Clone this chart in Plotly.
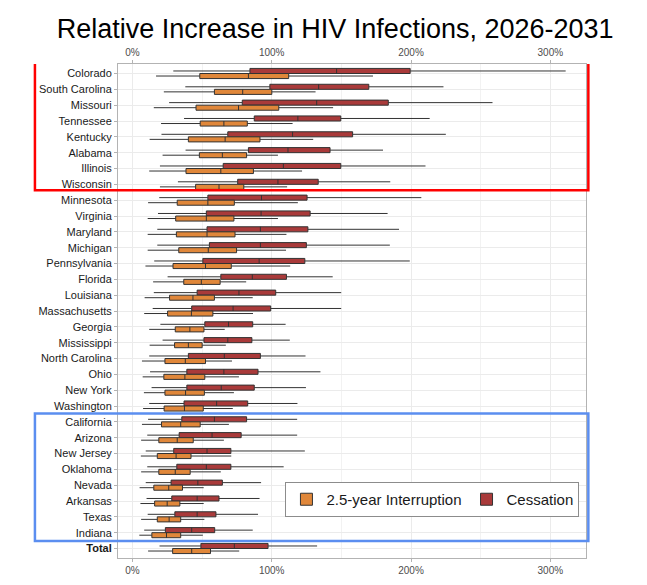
import plotly.graph_objects as go

# states top to bottom, values are % relative increase
states = ["Colorado", "South Carolina", "Missouri", "Tennessee", "Kentucky", "Alabama",
          "Illinois", "Wisconsin", "Minnesota", "Virginia", "Maryland", "Michigan",
          "Pennsylvania", "Florida", "Louisiana", "Massachusetts", "Georgia", "Mississippi",
          "North Carolina", "Ohio", "New York", "Washington", "California", "Arizona",
          "New Jersey", "Oklahoma", "Nevada", "Arkansas", "Texas", "Indiana", "Total"]

# Cessation
cess_lo = [29.4, 38, 26.4, 37.1, 20.9, 38.2, 19.8, 32.7, 19.3, 18.4, 17.9, 17.9, 15.7, 25.3, 15.4,
           14.6, 20.1, 21.7, 12.1, 12.7, 13.8, 12.1, 11.3, 10.7, 9.6, 10.7, 9.6, 10.2, 11, 8.5, 19.5]
cess_q1 = [84.4, 98.7, 78.9, 87.5, 68.5, 83.3, 65.2, 75.6, 54.2, 53.1, 53.6, 55.3, 50.6, 63.5, 46.5,
           42.6, 52, 51.4, 40.2, 39.1, 39.1, 37.1, 35.5, 33.6, 29.7, 31.9, 27.8, 28.3, 30.5, 23.7, 49.2]
cess_med = [146.6, 133.7, 132.3, 118.8, 115, 111.7, 108.4, 104.5, 92.7, 92.4, 91.9, 91.9, 91, 86.1, 76.5,
            72.3, 69, 68.5, 66, 65.7, 63.8, 60.5, 58.9, 57.2, 53.6, 53.1, 47, 46.5, 46.5, 42.6, 73.2]
cess_q3 = [199.4, 169.7, 183.7, 149.6, 158.1, 141.9, 149.6, 133.4, 125.4, 127.6, 126, 124.9, 123.8, 110.6, 102.9,
           99.3, 86.4, 85.8, 91.9, 90.2, 87.5, 82.8, 82, 78.1, 70.7, 70.7, 64.6, 62.2, 60, 59.1, 97.4]
cess_hi = [311, 223.3, 258.5, 213.4, 225, 179.9, 210.4, 185.1, 207.4, 183.2, 191.4, 184.8, 199.1, 143.8, 149.9,
           149.9, 110, 113, 124.3, 135, 124.6, 118.5, 118.3, 118.3, 123.8, 108.6, 92.4, 91.3, 90.2, 86.4, 132.6]

# 2.5-year Interruption
intr_lo = [17, 22.6, 15.4, 20.6, 12.4, 21.7, 12.1, 19.8, 11.3, 11, 11, 11, 9.4, 14.9, 8.8,
           8.5, 12.1, 12.4, 6.9, 7.4, 8.3, 7.7, 6.9, 6.3, 6.1, 6.3, 5.2, 5.8, 6.3, 5, 11.3]
intr_q1 = [48.4, 58.9, 45.7, 48.7, 40.2, 48.1, 38.5, 45.4, 32.2, 31.1, 31.6, 33.3, 29.2, 36.9, 26.7,
           25.3, 30.8, 30.3, 23.4, 22.6, 23.4, 22.8, 20.9, 19, 17.9, 19, 15.4, 16, 17.9, 14, 28.9]
intr_med = [83.3, 79.2, 76.2, 65.7, 66.6, 64.6, 63.5, 62.2, 54.2, 53.1, 53.6, 54.5, 52.5, 49.5, 43.5,
            42.4, 41.3, 40.2, 38, 37.7, 38.2, 37.4, 34.7, 32.2, 31.4, 30.8, 26.1, 25, 26.4, 24.5, 42.6]
intr_q3 = [112.2, 100.1, 105.1, 82.5, 91.6, 82, 86.9, 80, 73.2, 72.9, 73.7, 74.8, 71, 63, 58.9,
           57.8, 51.4, 50.1, 52.5, 52, 51.7, 50.9, 48.7, 43.7, 42.1, 41.5, 36, 34.1, 34.7, 34.7, 56.1]
intr_hi = [172.7, 131.5, 144.1, 115, 129.8, 104.5, 121.8, 111.1, 118.8, 104.5, 110.6, 110.3, 113.3, 81.7, 86.4,
           86.6, 66.3, 67.1, 71.5, 76.5, 72.9, 72.1, 69.3, 65.7, 71, 63.5, 51.2, 51.2, 51.7, 50.6, 76.7]

x_ticks = [0, 100, 200, 300]
x_labels = ["%d%%" % t for t in x_ticks]
tick_text = [("<b>%s</b>" % s) if s == "Total" else s for s in states]

fig = go.Figure()

# first trace sits on top within each row (y axis is reversed)
fig.add_trace(go.Box(
    name="Cessation", y=states, orientation="h",
    q1=cess_q1, median=cess_med, q3=cess_q3,
    lowerfence=cess_lo, upperfence=cess_hi,
    fillcolor="#A93A3A", line=dict(color="#333333", width=1),
    whiskerwidth=0, legendrank=2,
))
fig.add_trace(go.Box(
    name="2.5-year Interruption", y=states, orientation="h",
    q1=intr_q1, median=intr_med, q3=intr_q3,
    lowerfence=intr_lo, upperfence=intr_hi,
    fillcolor="#E0873A", line=dict(color="#333333", width=1),
    whiskerwidth=0, legendrank=1,
))
# empty trace so the top copy of the x axis gets drawn
fig.add_trace(go.Scatter(x=[None], y=[None], xaxis="x2", yaxis="y",
                         showlegend=False, hoverinfo="skip"))

xr = [-10.3, 325.6]
axis_font = dict(family="Liberation Sans, Arial, sans-serif", size=10, color="#4d4d4d")

fig.update_layout(
    width=647, height=585,
    margin=dict(l=118, r=61, t=64, b=27, autoexpand=False),
    paper_bgcolor="white", plot_bgcolor="white",
    font=dict(family="Liberation Sans, Arial, sans-serif", color="#1a1a1a"),
    title=dict(text="Relative Increase in HIV Infections, 2026-2031",
               x=0.518, xref="container", xanchor="center",
               y=0.952, yref="container", yanchor="middle",
               font=dict(size=27, color="black")),
    boxmode="group", boxgap=0.36, boxgroupgap=0,
    xaxis=dict(range=xr, tickvals=x_ticks, ticktext=x_labels, automargin=False,
               showgrid=True, gridcolor="#ebebeb", gridwidth=1,
               minor=dict(tickvals=[50, 150, 250], showgrid=True, gridcolor="#f2f2f2", gridwidth=1),
               zeroline=False, showline=True, linecolor="#b3b3b3", linewidth=1, mirror=True,
               ticks="outside", ticklen=3, tickcolor="#b3b3b3", tickfont=axis_font),
    xaxis2=dict(range=xr, overlaying="x", side="top", anchor="y",
                tickvals=x_ticks, ticktext=x_labels, automargin=False,
                showgrid=False, zeroline=False, showline=False,
                ticks="outside", ticklen=3, tickcolor="#b3b3b3", tickfont=axis_font),
    yaxis=dict(type="category", categoryorder="array", categoryarray=states,
               tickvals=states, ticktext=tick_text, range=[30.6, -0.6], automargin=False,
               showgrid=True, gridcolor="#ebebeb", gridwidth=1,
               showline=True, linecolor="#b3b3b3", linewidth=1, mirror=True,
               ticks="outside", ticklen=3, tickcolor="#b3b3b3",
               tickfont=dict(family="Liberation Sans, Arial, sans-serif", size=11, color="#1a1a1a")),
    legend=dict(orientation="h", x=0.986, xanchor="right", y=0.083, yanchor="bottom",
                bgcolor="white", bordercolor="#8c8c8c", borderwidth=1,
                font=dict(size=15, color="#1a1a1a"), itemwidth=30),
    showlegend=True,
)

# highlight boxes round the top and bottom groups of states
fig.add_shape(type="rect", xref="paper", yref="y", x0=-0.1775, x1=1.005, y0=-0.695, y1=7.37,
              line=dict(color="#FF0000", width=2.5), fillcolor="rgba(0,0,0,0)", layer="above")
fig.add_shape(type="rect", xref="paper", yref="y", x0=-0.1775, x1=1.005, y0=21.48, y1=29.53,
              line=dict(color="#5B8EF0", width=2.5), fillcolor="rgba(0,0,0,0)", layer="above")

# drop the browser's default page margin so the figure sits at the window corner
fig.write_html("out.html", config={"displayModeBar": False},
               post_script="document.body.style.margin='0';")
